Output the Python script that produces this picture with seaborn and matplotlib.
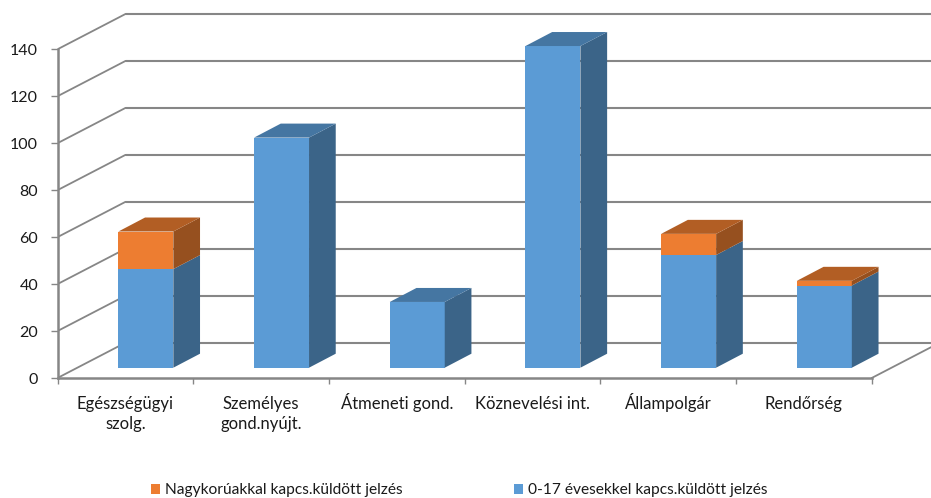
import numpy as np
import pandas as pd
import matplotlib
matplotlib.use("Agg")
import matplotlib.pyplot as plt
import seaborn as sns

categories = ["Egészségügyi\nszolg.", "Személyes\ngond.nyújt.", "Átmeneti gond.",
              "Köznevelési int.", "Állampolgár", "Rendőrség"]
minors = [42, 98, 28, 137, 48, 35]
adults = [16, 0, 0, 0, 9, 2]
y_ticks = [0, 20, 40, 60, 80, 100, 120, 140]
label_minors = "0-17 évesekkel kapcs.küldött jelzés"
label_adults = "Nagykorúakkal kapcs.küldött jelzés"

BLUE, BLUE_SIDE, BLUE_TOP = "#5B9BD5", "#3B6488", "#4576A2"
ORANGE, ORANGE_SIDE, ORANGE_TOP = "#ED7D31", "#96501F", "#B25E24"
GREY = "#868686"
TEXT = "#1a1a1a"

# pixel scales of the plot
PX_X = 135.7  # px per category
PX_Y = 2.348  # px per value unit
LEFT, BASE = 57.5, 378


def side_and_top(ax, x0, x1, low, high, side, top=None):
    dx, dy = 26.7 / PX_X, 14 / PX_Y
    ax.fill([x1, x1 + dx, x1 + dx, x1], [low, low + dy, high + dy, high],
            color=side, lw=0, zorder=3)
    if top:
        ax.fill([x0, x0 + dx, x1 + dx, x1], [high, high + dy, high + dy, high],
                color=top, lw=0, zorder=3)


def plot_chart():
    sns.set_style("white")
    plt.rcParams["font.family"] = ["Lato", "DejaVu Sans"]
    fig = plt.figure(figsize=(9.31, 4.98), dpi=100)
    ax = fig.add_axes([LEFT / 931, (498 - BASE) / 498, (931 - LEFT) / 931, (BASE - 4) / 498])

    df = pd.DataFrame({"cat": categories, "minors": minors, "adults": adults})
    df["total"] = df["minors"] + df["adults"]

    width = 0.405
    sns.barplot(data=df, x="cat", y="total", color=ORANGE, saturation=1, width=width,
                label=label_adults, zorder=3, ax=ax)
    sns.barplot(data=df, x="cat", y="minors", color=BLUE, saturation=1, width=width,
                label=label_minors, zorder=3, ax=ax)

    # the bars stand a little behind the axis on the floor
    fx, fy = 20.5 / PX_X, 10.3 / PX_Y
    for p in ax.patches:
        p.set_x(p.get_x() + fx)
        p.set_y(fy)
        p.set_linewidth(0)

    for i, row in df.iterrows():
        x0, x1 = i + fx - width / 2, i + fx + width / 2
        has_adults = row["adults"] > 0
        side_and_top(ax, x0, x1, fy, fy + row["minors"], BLUE_SIDE, None if has_adults else BLUE_TOP)
        if has_adults:
            side_and_top(ax, x0, x1, fy + row["minors"], fy + row["total"], ORANGE_SIDE, ORANGE_TOP)

    # back wall and side wall lines
    xmin = -0.5
    xmax = xmin + (931 - LEFT) / PX_X
    wall_dx, wall_dy = 68 / PX_X, 35.3 / PX_Y
    for v in y_ticks:
        ax.plot([xmin, xmin + wall_dx], [v, v + wall_dy], color=GREY, lw=1.3, zorder=1)
        ax.plot([xmin + wall_dx, xmax], [v + wall_dy, v + wall_dy], color=GREY, lw=1.5, zorder=1)
    end = len(categories) - 0.5
    ax.plot([end, end + wall_dx], [0, wall_dy], color=GREY, lw=1.3, zorder=1)

    ax.set_xlim(xmin, xmax)
    ax.set_ylim(0, (BASE - 4) / PX_Y)
    ax.set_xlabel("")
    ax.set_ylabel("")

    sns.despine(ax=ax, top=True, right=True)
    ax.spines["left"].set_bounds(0, 140)
    ax.spines["bottom"].set_bounds(xmin, end)
    for s in ["left", "bottom"]:
        ax.spines[s].set_color(GREY)
        ax.spines[s].set_linewidth(1.8)

    ax.set_yticks(y_ticks)
    ax.set_xticks(range(len(categories)))
    ax.set_xticklabels(categories, linespacing=1.3)
    ax.set_xticks(np.arange(len(categories) + 1) - 0.5, minor=True)
    ax.tick_params(axis="x", which="major", length=0, pad=13, labelsize=12, labelcolor=TEXT)
    ax.tick_params(axis="x", which="minor", length=4, width=1, color=GREY, bottom=True)
    ax.tick_params(axis="y", which="major", length=5, width=1, color=GREY, left=True, pad=9,
                   labelsize=11.5, labelcolor=TEXT)
    # accented capitals make the text box taller, keep the baselines level
    ticks = ax.xaxis.get_major_ticks()
    for i in [2, 4]:
        ticks[i].set_pad(10.5)

    handles, labels = ax.get_legend_handles_labels()
    fig.legend(handles, labels, ncol=2, loc="lower left", bbox_to_anchor=(151 / 931, 1 / 498),
               frameon=False, fontsize=11.2, handlelength=0.61, handleheight=0.61,
               handletextpad=0.32, columnspacing=7.1, labelcolor=TEXT,
               borderpad=0, borderaxespad=0)
    if ax.get_legend():
        ax.get_legend().remove()

    fig.savefig("out.png", dpi=100)


if __name__ == "__main__":
    plot_chart()
